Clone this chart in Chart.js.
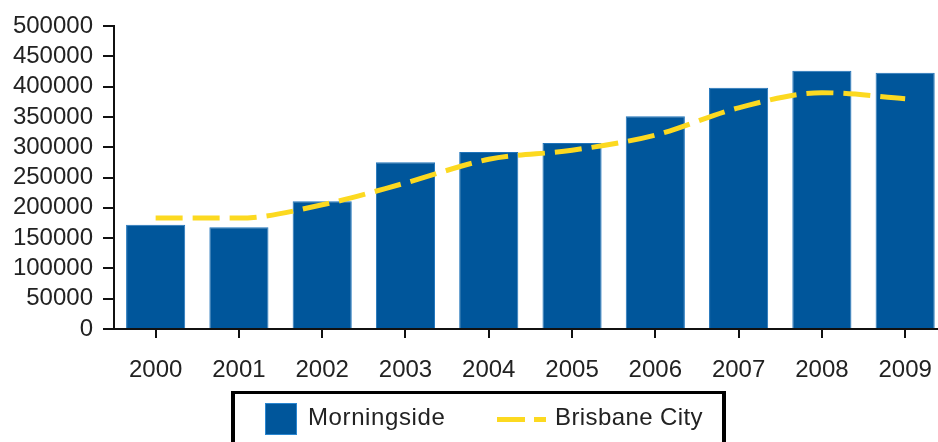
<!DOCTYPE html>
<html>
<head>
<meta charset="utf-8">
<script src="https://cdn.jsdelivr.net/npm/chart.js@4/dist/chart.umd.min.js"></script>
<style>
  html, body { margin: 0; padding: 0; overflow: hidden; background: #fff; }
  #wrap { position: relative; width: 950px; height: 442px; }
  #legend { position: absolute; left: 231px; top: 391px; width: 487px; height: 60px;
            border: 4px solid #000; border-top-width: 3px; box-sizing: content-box;
            font-family: 'Liberation Sans', Arial, sans-serif; font-size: 24px; color: #222; }
  #legend .sw { position: absolute; left: 30px; top: 9px; width: 30px; height: 30px;
                background: #00569b; border: 1px solid #2a86d0; }
  #legend .t1 { position: absolute; left: 73px; top: 9px; letter-spacing: 0.6px; }
  #legend .d1 { position: absolute; left: 262px; top: 23px; width: 28px; height: 5px; background: #fcd920; }
  #legend .d2 { position: absolute; left: 299px; top: 23px; width: 12px; height: 5px; background: #fcd920; }
  #legend .t2 { position: absolute; left: 320px; top: 9px; letter-spacing: 0.4px; }
</style>
</head>
<body>
<div id="wrap">
  <canvas id="chart" width="950" height="442"></canvas>
  <div id="legend">
    <div class="sw"></div><span class="t1">Morningside</span>
    <div class="d1"></div><div class="d2"></div><span class="t2">Brisbane City</span>
  </div>
</div>
<script>
const years = ['2000', '2001', '2002', '2003', '2004', '2005', '2006', '2007', '2008', '2009'];
const morningside = [172000, 168000, 211000, 275000, 292000, 307000, 351000, 398000, 426000, 423000];
const brisbaneCity = [183000, 183000, 205000, 241000, 280000, 295000, 320000, 365000, 390000, 380000];

const font = { family: "'Liberation Sans', Arial, sans-serif", size: 24 };

new Chart(document.getElementById('chart'), {
    type: 'bar',
    data: {
        labels: years,
        datasets: [{
            type: 'line',
            label: 'Brisbane City',
            data: brisbaneCity,
            borderColor: '#fcd920',
            borderWidth: 5,
            borderDash: [27, 10],
            pointRadius: 0,
            cubicInterpolationMode: 'monotone',
            fill: false,
            order: 0
        }, {
            label: 'Morningside',
            data: morningside,
            backgroundColor: '#00569b',
            borderColor: '#1f74bb',
            borderWidth: { left: 1, right: 1, top: 1, bottom: 0 },
            categoryPercentage: 1,
            barPercentage: 0.71,
            order: 1
        }]
    },
    options: {
        responsive: false,
        animation: false,
        layout: { padding: { top: 26, right: 3, left: 0, bottom: 0 } },
        plugins: { legend: { display: false }, tooltip: { enabled: false } },
        scales: {
            x: {
                grid: { drawOnChartArea: false, offset: false, color: '#111', lineWidth: 2, tickLength: 9 },
                border: { color: '#111', width: 2 },
                ticks: { color: '#222', font: font, padding: 18, maxRotation: 0 },
                afterFit: s => { s.height = 113; }
            },
            y: {
                min: 0,
                max: 500000,
                grid: { drawOnChartArea: false, color: '#111', lineWidth: 2, tickLength: 11 },
                border: { color: '#111', width: 2 },
                ticks: { stepSize: 50000, autoSkip: false, color: '#222', font: font, padding: 10,
                         callback: v => String(v) },
                afterFit: s => { s.width = 114; }
            }
        }
    }
});
</script>
</body>
</html>
